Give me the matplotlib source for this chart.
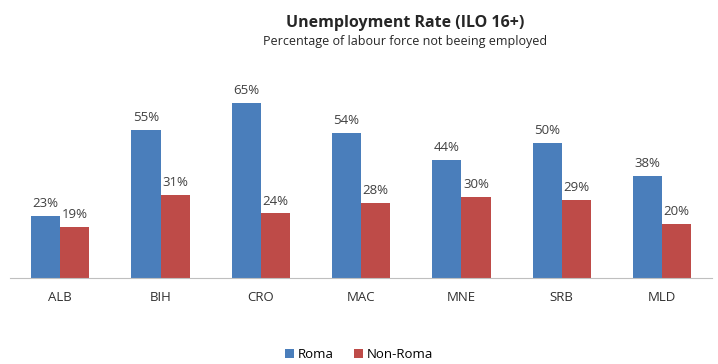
import matplotlib.pyplot as plt
import numpy as np

plt.rcParams['font.family'] = ['Open Sans', 'DejaVu Sans']

countries = ['ALB', 'BIH', 'CRO', 'MAC', 'MNE', 'SRB', 'MLD']
roma = [23, 55, 65, 54, 44, 50, 38]
non_roma = [19, 31, 24, 28, 30, 29, 20]

blue = '#4A7EBB'
red = '#BE4B48'

fig = plt.figure(figsize=(7.18, 3.64), dpi=100)
ax = fig.add_axes((0.014, 0.236, 0.978, 0.518))

x = np.arange(len(countries))
w = 0.29
b1 = ax.bar(x - w / 2, roma, w, color=blue, label='Roma')
b2 = ax.bar(x + w / 2, non_roma, w, color=red, label='Non-Roma')

for bars, vals in [(b1, roma), (b2, non_roma)]:
    for b, v in zip(bars, vals):
        ax.text(b.get_x() + b.get_width() / 2, v + 2.2, f'{v}%',
                ha='center', va='bottom', fontsize=9.5, color='#404040')

ax.set_xlim(-0.5, len(countries) - 0.5)
ax.set_ylim(0, 70)
ax.set_xticks(x, countries)
ax.tick_params(axis='x', length=0, pad=9, labelsize=9.5, labelcolor='#303030')
ax.set_yticks([])
for s in ['top', 'right', 'left']:
    ax.spines[s].set_visible(False)
ax.spines['bottom'].set_color('#BFBFBF')

fig.text(0.564, 0.927, 'Unemployment Rate (ILO 16+)', ha='center', fontsize=11.5,
         fontweight='bold', color='#262626')
fig.text(0.564, 0.875, 'Percentage of labour force not beeing employed', ha='center',
         fontsize=9, color='#262626')

fig.legend(loc='center', bbox_to_anchor=(0.5, 0.025), ncol=2, frameon=False,
           fontsize=9.5, handlelength=0.7, handleheight=0.7, handletextpad=0.3,
           columnspacing=1.5)

fig.savefig('out.png', dpi=100)
